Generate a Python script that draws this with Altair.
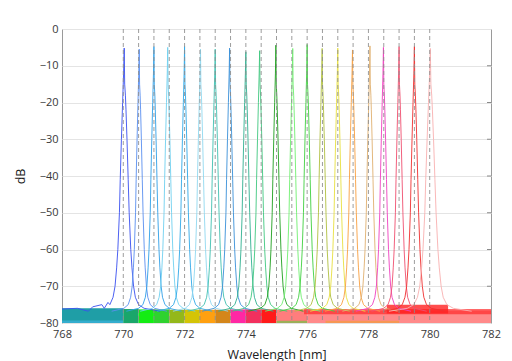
import altair as alt
import pandas as pd

# ---------------- data ----------------
CHANNEL_NM = [770.0, 770.5, 771.0, 771.5, 772.0, 772.5, 773.0, 773.5, 774.0, 774.5,
              775.0, 775.5, 776.0, 776.5, 777.0, 777.5, 778.0, 778.5, 779.0, 779.5, 780.0]
PEAK_CENTER = [770.03, 770.52, 771.0, 771.45, 772.0, 772.52, 773.0, 773.47, 774.0, 774.45,
               774.98, 775.53, 776.0, 776.49, 777.0, 777.48, 778.05, 778.49, 779.0, 779.5, 780.02]
PEAK_DB = [-5.2, -5.5, -4.8, -5.0, -4.8, -5.5, -5.5, -5.2, -6.2, -5.9,
           -4.4, -5.3, -4.2, -5.3, -5.2, -5.7, -4.6, -5.0, -4.8, -4.8, -5.3]
PEAK_WIDTH = [1.3, 1.0, 1.0, 1.0, 1.0, 1.0, 1.0, 1.0, 1.0, 1.0,
              1.0, 1.0, 1.0, 1.0, 1.0, 1.0, 1.0, 1.0, 1.0, 1.1, 1.5]
PEAK_COLOR = ["#3a50f0", "#5a8ff0", "#30a0e8", "#70d0f0", "#30a8e8", "#90d8f0", "#40c0b0",
              "#3a90d8", "#30b090", "#40c880", "#20a020", "#70f070", "#40d040", "#b0c040",
              "#e8e040", "#f8a040", "#e0b070", "#f040c0", "#f05070", "#f03030", "#f8b0b0"]

# common line shape of one channel: offset from centre [nm] and level [dB] (None = peak level)
SHAPE_OFFSET = [-0.9, -0.5, -0.36, -0.28, -0.23, -0.19, -0.16, -0.12, -0.1, -0.07, -0.04, -0.015, 0.0,
                0.012, 0.03, 0.045, 0.07, 0.1, 0.125, 0.165, 0.195, 0.235, 0.28, 0.36, 0.5, 0.9]
SHAPE_DB = [-76.8, -76.0, -75.0, -73.0, -70.0, -65.0, -60.0, -50.0, -41.0, -30.0, -20.0, -12.0, None,
            -15.0, -18.0, -22.0, -30.0, -41.0, -50.0, -60.0, -65.0, -70.0, -73.0, -75.0, -76.0, -76.8]

# blue noise floor left of the first channel
BLUE_FLOOR_X = [768.0, 768.5, 769.0, 769.3, 769.5]
BLUE_FLOOR_DB = [-76.2, -76.0, -75.6, -75.0, -74.4]

# multicoloured noise band along the bottom
BAND_X1 = [768.0, 768.0, 770.0, 770.5, 771.0, 771.5, 772.0, 772.5, 773.0, 773.5, 774.0, 774.5,
           775.0, 776.0, 775.9, 778.6, 775.0, 776.6]
BAND_X2 = [770.0, 770.0, 770.5, 771.0, 771.5, 772.0, 772.5, 773.0, 773.5, 774.0, 774.5, 775.0,
           776.0, 782.0, 782.0, 780.6, 776.0, 779.0]
BAND_LO = [-80.0, -80.0, -80.0, -80.0, -80.0, -80.0, -80.0, -80.0, -80.0, -80.0, -80.0, -80.0,
           -80.0, -80.0, -77.6, -77.4, -80.0, -80.0]
BAND_HI = [-76.0, -79.3, -76.2, -76.3, -76.3, -76.4, -76.4, -76.4, -76.4, -76.3, -76.3, -76.3,
           -76.4, -76.6, -76.2, -75.0, -79.4, -79.4]
BAND_COLOR = ["#1f9ea6", "#3ab0d8", "#1aa66a", "#14ec14", "#2fd22f", "#94b81a", "#d4c406",
              "#ffa010", "#d4861a", "#ff28a4", "#f2305e", "#ff1a1a", "#ff7d7d", "#ff8a8a",
              "#ff2a2a", "#ff2020", "#5ad040", "#f0a030"]
BAND_OPACITY = [1, 0.8, 1, 1, 1, 1, 1, 1, 1, 1, 1, 1, 1, 1, 0.7, 0.8, 0.6, 0.6]

X_TICKS = [768, 770, 772, 774, 776, 778, 780, 782]
Y_TICKS = [0, -10, -20, -30, -40, -50, -60, -70, -80]

# ---------------- tables ----------------
rows = []
for i, c in enumerate(PEAK_CENTER):
    if i == 0:
        for bx, by in zip(BLUE_FLOOR_X, BLUE_FLOOR_DB):
            rows.append({"ch": i, "x": bx, "y": by})
    for off, db in zip(SHAPE_OFFSET, SHAPE_DB):
        rows.append({"ch": i, "x": c + off * PEAK_WIDTH[i],
                     "y": PEAK_DB[i] if db is None else db})
spec = pd.DataFrame(rows)

band = pd.DataFrame({"x1": BAND_X1, "x2": BAND_X2, "lo": BAND_LO, "hi": BAND_HI,
                     "c": BAND_COLOR, "op": BAND_OPACITY})
chan = pd.DataFrame({"x": CHANNEL_NM})
rticks = pd.DataFrame({"y": Y_TICKS[1:-1]})

PLOT_W, PLOT_H = 429, 294
FONT = "Open Sans"

xscale = alt.Scale(domain=[768, 782], nice=False, zero=False)
yscale = alt.Scale(domain=[-80, 0], nice=False, zero=False)

xaxis = alt.Axis(values=X_TICKS, title="Wavelength [nm]", grid=False, ticks=False, tickSize=0,
                 labelPadding=5, titlePadding=9, domain=False, labelFlush=False,
                 labelOverlap=False)
yaxis = alt.Axis(values=Y_TICKS, title="dB", grid=True, gridColor="#e4e4e4", ticks=False,
                 tickSize=0, labelPadding=4, titlePadding=12, domain=False, labelFlush=False,
                 labelOverlap=False)

band_layer = alt.Chart(band).mark_rect().encode(
    x=alt.X("x1:Q", scale=xscale, axis=xaxis),
    x2="x2:Q",
    y=alt.Y("lo:Q", scale=yscale, axis=yaxis),
    y2="hi:Q",
    color=alt.Color("c:N", scale=None),
    opacity=alt.Opacity("op:Q", scale=None),
)

lines = alt.Chart(spec).mark_line(strokeWidth=1, clip=True, opacity=0.9).encode(
    x=alt.X("x:Q", scale=xscale, axis=xaxis),
    y=alt.Y("y:Q", scale=yscale, axis=yaxis),
    color=alt.Color("ch:O", scale=alt.Scale(domain=list(range(21)), range=PEAK_COLOR), legend=None),
)

rules = alt.Chart(chan).mark_rule(color="#8c8c8c", strokeWidth=1, strokeDash=[4, 3], opacity=0.85).encode(
    x=alt.X("x:Q", scale=xscale, axis=xaxis),
)

right_ticks = alt.Chart(rticks).mark_rule(color="#8a8a8a", strokeWidth=1).encode(
    y=alt.Y("y:Q", scale=yscale, axis=yaxis),
    x=alt.value(PLOT_W - 4),
    x2=alt.value(PLOT_W),
)

chart = alt.layer(band_layer, lines, rules, right_ticks).properties(
    width=PLOT_W, height=PLOT_H,
    autosize=alt.AutoSizeParams(type="none"),
    padding={"left": 54, "top": 21, "right": 13, "bottom": 38},
    background="white",
).configure_view(
    stroke="#9a9a9a", strokeWidth=1
).configure_axis(
    labelFont=FONT, titleFont=FONT, labelFontSize=11, titleFontSize=12.5,
    labelColor="#383838", titleColor="#202020", titleFontWeight="normal",
)

chart.save("out.html", embed_options={"renderer": "svg", "actions": False})
